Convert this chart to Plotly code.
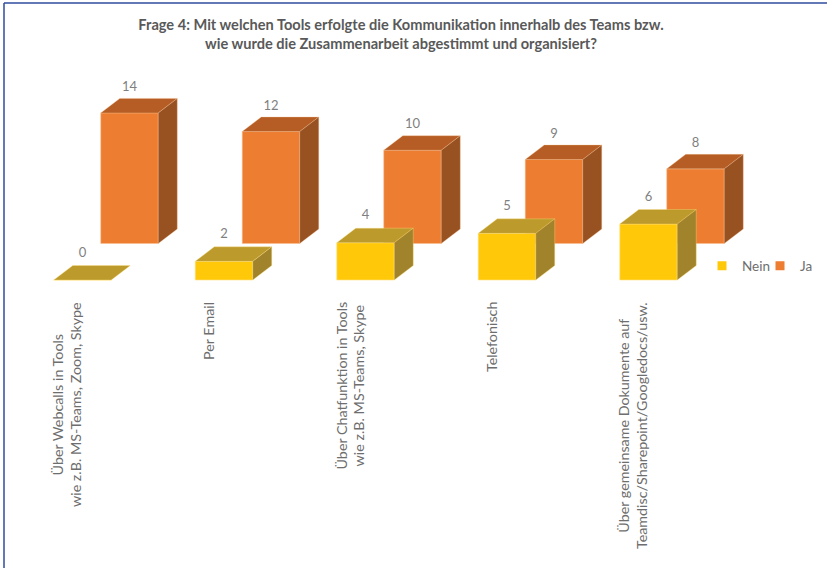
import plotly.graph_objects as go

categories = [
    "Über Webcalls in Tools<br>wie z.B. MS-Teams, Zoom, Skype",
    "Per Email",
    "Über Chatfunktion in Tools<br>wie z.B. MS-Teams, Skype",
    "Telefonisch",
    "Über gemeinsame Dokumente auf<br>Teamdisc/Sharepoint/Googledocs/usw.",
]
nein = [0, 2, 4, 5, 6]
ja = [14, 12, 10, 9, 8]
title = ("Frage 4: Mit welchen Tools erfolgte die Kommunikation innerhalb des Teams bzw.<br>"
         "wie wurde die Zusammenarbeit abgestimmt und organisiert?")

W, H = 827, 568
PX_X = 141.5          # pixels per category
PX_Y = 9.33           # pixels per value unit
X0_PX, Y0_PX = 82.5, 280
BAR_W = 57.5 / PX_X
DX, DY = 19 / PX_X, 14.5 / PX_Y                 # one bar depth
GAP_X, GAP_Y = 47 / PX_X, 36.5 / PX_Y           # series offset in depth

FONT = "Lato, Carlito, Calibri, sans-serif"
series = [
    dict(name="Ja", vals=ja, ox=GAP_X, oy=GAP_Y, front="#ED7D31", top="#B55D24", side="#985222",
         edge="rgba(250,190,140,0.55)", lift=10.5),
    dict(name="Nein", vals=nein, ox=0, oy=0, front="#FFC90A", top="#BC9A2B", side="#A0832B",
         edge="rgba(255,225,130,0.6)", lift=12),
]

fig = go.Figure()
cats = list(range(len(categories)))

# front faces
for s in series:
    fig.add_trace(go.Bar(
        x=[c + s["ox"] for c in cats], y=s["vals"], base=[s["oy"]] * len(cats),
        width=BAR_W, marker=dict(color=s["front"], line=dict(color=s["edge"], width=1)),
        name=s["name"], showlegend=False, hoverinfo="skip",
    ))

# top and side faces, projected obliquely from the values
for s in series:
    for c, v in zip(cats, s["vals"]):
        l = c + s["ox"] - BAR_W / 2
        r = l + BAR_W
        b = s["oy"]
        t = b + v
        fig.add_trace(go.Scatter(
            x=[l, r, r + DX, l + DX, l], y=[t, t, t + DY, t + DY, t],
            mode="lines", fill="toself", fillcolor=s["top"],
            line=dict(color=s["edge"], width=0.6), showlegend=False, hoverinfo="skip"))
        if v > 0:
            fig.add_trace(go.Scatter(
                x=[r, r + DX, r + DX, r, r], y=[b, b + DY, t + DY, t, b],
                mode="lines", fill="toself", fillcolor=s["side"],
                line=dict(color=s["edge"], width=0.6), showlegend=False, hoverinfo="skip"))

# data labels
for s in series:
    fig.add_trace(go.Scatter(
        x=[c + s["ox"] for c in cats],
        y=[s["oy"] + v + DY + s["lift"] / PX_Y for v in s["vals"]],
        mode="text", text=[str(v) for v in s["vals"]], textposition="middle center",
        textfont=dict(family=FONT, size=13, color="#7F7F7F"), showlegend=False, hoverinfo="skip"))

# legend entries
for name, col in [("Nein", "#FFC90A"), ("Ja", "#ED7D31")]:
    fig.add_trace(go.Scatter(x=[None], y=[None], mode="markers", name=name,
                             marker=dict(symbol="square", size=9, color=col)))

# rotated category labels, centred line by line
for c, label in zip(cats, categories):
    styled = "<br>".join(f'<span style="font-size:14.3px">{p}</span>' for p in label.split("<br>"))
    fig.add_annotation(x=c - 16 / PX_X, y=(Y0_PX - 300) / PX_Y, xref="x", yref="y",
                       text=styled, textangle=-90, showarrow=False, align="center",
                       xanchor="center", yanchor="top",
                       font=dict(family=FONT, size=13.5, color="#6E6E6E"))

# frame of the picture
for x0, y0, x1, y1 in [(4, 3, W, 3), (4, 3, 4, H)]:
    fig.add_shape(type="line", xref="paper", yref="paper",
                  x0=x0 / W, x1=x1 / W, y0=1 - y0 / H, y1=1 - y1 / H,
                  line=dict(color="#2F4B9E", width=1.5))

fig.update_layout(
    width=W, height=H, margin=dict(l=0, r=0, t=0, b=0, autoexpand=False),
    paper_bgcolor="white", plot_bgcolor="white", barmode="overlay",
    title=dict(text="<br>".join(f"<b>{p}</b>" for p in title.split("<br>")),
               x=401 / W, xanchor="center", y=1 - 30 / H, yanchor="top",
               font=dict(family=FONT, size=14.6, color="#595959")),
    xaxis=dict(range=[-X0_PX / PX_X, (W - X0_PX) / PX_X], visible=False, fixedrange=True),
    yaxis=dict(range=[(Y0_PX - H) / PX_Y, Y0_PX / PX_Y], visible=False, fixedrange=True),
    legend=dict(orientation="h", x=702 / W, y=1 - 266 / H, xanchor="left", yanchor="middle",
                entrywidth=13, entrywidthmode="pixels",
                bgcolor="rgba(0,0,0,0)", font=dict(family=FONT, size=13.5, color="#6E6E6E")),
)
fig.write_html("out.html", config={"displayModeBar": False},
               post_script="document.body.style.margin='0';")
